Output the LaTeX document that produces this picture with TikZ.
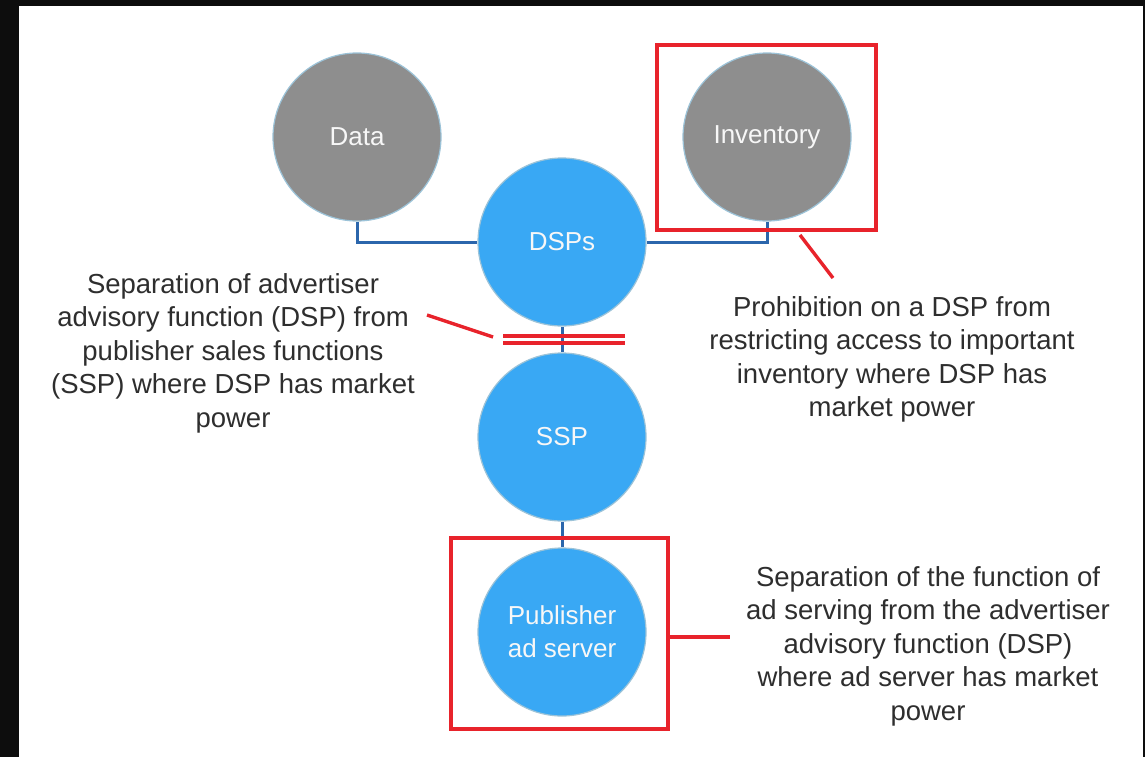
\documentclass[tikz,border=0pt]{standalone}
\usepackage{fontspec}
\setmainfont{Liberation Sans}
\usetikzlibrary{backgrounds}
\definecolor{bub}{HTML}{39A8F4}
\definecolor{gry}{HTML}{8E8E8E}
\definecolor{rim}{HTML}{9CC3D8}
\definecolor{conn}{HTML}{2B66AC}
\definecolor{redl}{HTML}{E8232B}
\definecolor{txt}{HTML}{2E2E2E}
\tikzset{
  bubble/.style={circle, minimum size=168pt, inner sep=0pt, draw=rim, line width=1.2pt,
    text=white!94!gray, align=center, font=\fontsize{26}{33}\selectfont},
  graybub/.style={bubble, fill=gry},
  bluebub/.style={bubble, fill=bub},
  conline/.style={draw=conn, line width=3pt},
  redbox/.style={draw=redl, line width=3.4pt, inner sep=0pt},
  redline/.style={draw=redl, line width=3.4pt},
  lbltext/.style={align=center, text=txt, font=\fontsize{27.5}{33.5}\selectfont, inner sep=0pt}
}
\begin{document}
\begin{tikzpicture}[x=1pt, y=-1pt]
\useasboundingbox (0,0) rectangle (1145,757);
\begin{pgfonlayer}{background}
  \fill[black!95] (0,0) rectangle (1145,757);
  \fill[white] (19,6) rectangle (1143,757);
\end{pgfonlayer}

% circles
\node[graybub] (data) at (357,137) {Data};
\node[graybub] (inv) at (767,137) {Inventory};
\node[bluebub] (dsp) at (562,242) {DSPs};
\node[bluebub] (ssp) at (562,437) {SSP};
\node[bluebub] (pub) at (562,632) {Publisher\\ad server};

% red boxes
\node[redbox, minimum width=219pt, minimum height=185pt] (invbox) at (766.5,137.5) {};
\node[redbox, minimum width=217pt, minimum height=191pt] (pubbox) at (559.5,633.5) {};

% labels
\node[lbltext] (lsep) at (233,353) {Separation of advertiser\\advisory function (DSP) from\\publisher sales functions\\(SSP) where DSP has market\\power};
\node[lbltext] (lpro) at (892,359.5) {Prohibition on a DSP from\\restricting access to important\\inventory where DSP has\\market power};
\node[lbltext] (lad) at (928,646) {Separation of the function of\\ad serving from the advertiser\\advisory function (DSP)\\where ad server has market\\power};

% connectors
\begin{pgfonlayer}{background}
  \draw[conline] (data.south) |- (dsp.west);
  \draw[conline] (inv.south) |- (dsp.east);
  \draw[conline] (dsp.south) -- (ssp.north);
  \draw[conline] (ssp.south) -- (pub.north);
\end{pgfonlayer}

% separation marker between DSP and SSP
\coordinate (sepL) at (503,336);
\coordinate (sepR) at (625,336);
\coordinate (sepL2) at (503,343);
\coordinate (sepR2) at (625,343);
\draw[redline] (sepL) -- (sepR);
\draw[redline] (sepL2) -- (sepR2);
\coordinate (sepTip) at (493,337);
\coordinate (sepLab) at (427,315);
\draw[redline] (sepLab) -- (sepTip);

% inventory box pointer
\coordinate (invA) at (800,235);
\coordinate (invB) at (833,278);
\draw[redline] (invA) -- (invB);

% publisher box pointer
\coordinate (pubEnd) at (730,637);
\draw[redline] (pubbox.east |- pubEnd) -- (pubEnd);
\end{tikzpicture}
\end{document}
